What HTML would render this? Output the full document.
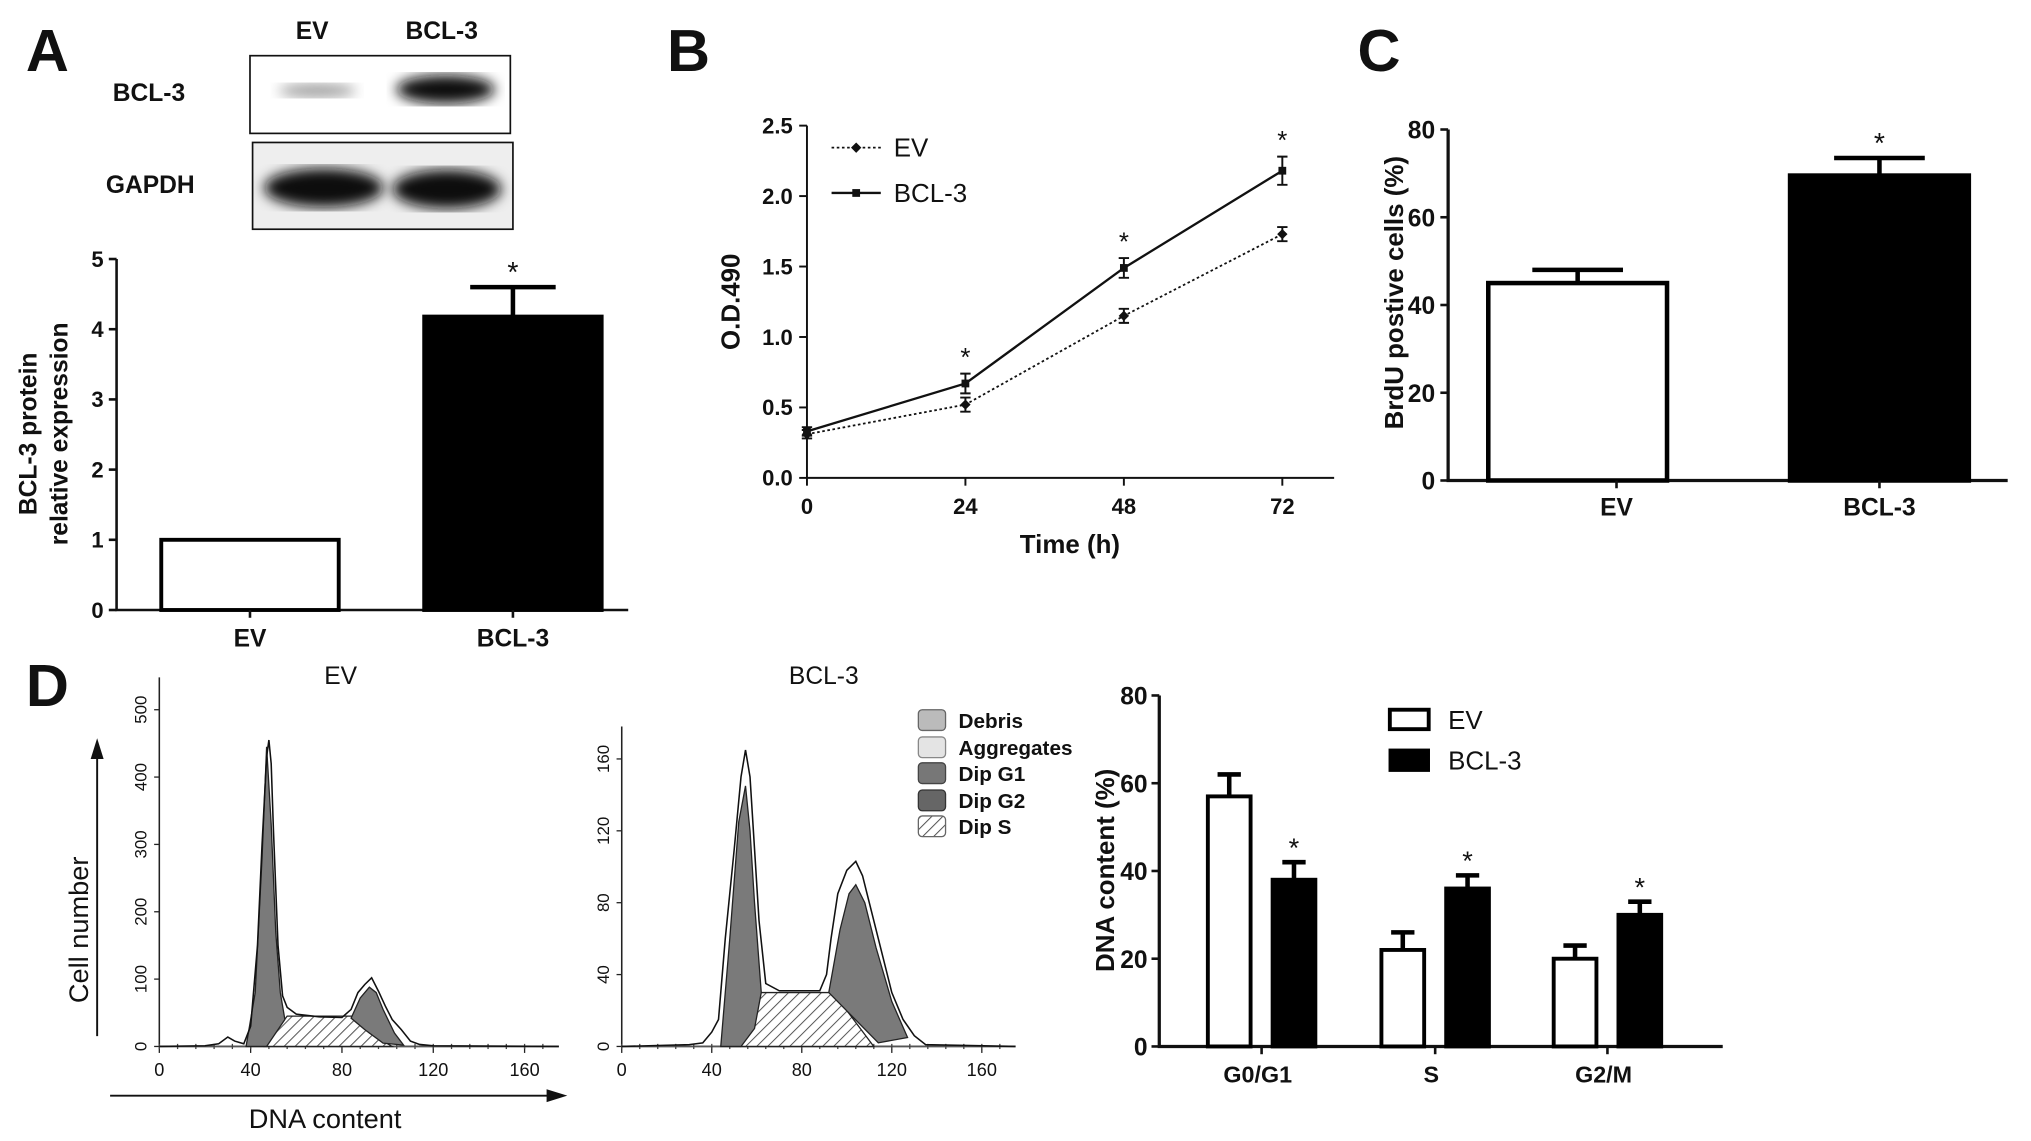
<!DOCTYPE html>
<html><head><meta charset="utf-8">
<style>
html,body{margin:0;padding:0;background:#fff;}
svg{display:block;}
text{font-family:"Liberation Sans",Arial,sans-serif;fill:#111;}
.tk{font-size:17px;font-weight:bold;}
.bd{font-weight:bold;}
.nar{font-family:"Liberation Sans Narrow","Liberation Sans",sans-serif;}
.pl{font-size:46px;font-weight:bold;}
</style></head>
<body>
<svg id="fig" width="2031" height="1141" viewBox="0 0 1568 881" preserveAspectRatio="none" xmlns="http://www.w3.org/2000/svg">
<defs>
<pattern id="hatch" width="6" height="6" patternUnits="userSpaceOnUse" patternTransform="rotate(45)">
<rect width="6" height="6" fill="#fff"/><line x1="0" y1="0" x2="0" y2="6" stroke="#555" stroke-width="1.6"/>
</pattern>
<filter id="blur"><feGaussianBlur stdDeviation="5"/></filter>
</defs>
<text x="20" y="55" class="pl">A</text>
<text x="515" y="55" class="pl">B</text>
<text x="1048" y="55" class="pl">C</text>
<text x="20" y="545" class="pl">D</text>

<g>
<text x="241" y="30" font-size="19" font-weight="bold" text-anchor="middle">EV</text>
<text x="341" y="30" font-size="19" font-weight="bold" text-anchor="middle">BCL-3</text>
<text x="115" y="78" font-size="19" font-weight="bold" text-anchor="middle">BCL-3</text>
<text x="116" y="149" font-size="19" font-weight="bold" text-anchor="middle">GAPDH</text>
<rect x="193" y="43" width="201" height="60" fill="#fff" stroke="#111" stroke-width="1.3"/>
<ellipse cx="245" cy="70" rx="30" ry="5" fill="#999" filter="url(#blur)"/>
<ellipse cx="344" cy="69" rx="38" ry="11" fill="#111" filter="url(#blur)"/>
<rect x="195" y="110" width="201" height="67" fill="#eee" stroke="#111" stroke-width="1.3"/>
<ellipse cx="250" cy="145" rx="46" ry="15" fill="#111" filter="url(#blur)"/>
<ellipse cx="345" cy="146" rx="42" ry="15" fill="#111" filter="url(#blur)"/>
</g>

<g id="gA"></g>
<g id="gB"></g>
<g id="gC"></g>
<g id="gD1"></g>
<g id="gD2"></g>
<g id="gD3"></g>

<text x="263" y="528" font-size="19" text-anchor="middle">EV</text>
<text x="636" y="528" font-size="19" text-anchor="middle">BCL-3</text>
<line x1="75" y1="800" x2="75" y2="582" stroke="#111" stroke-width="1.5"/>
<polygon points="75,570 70,586 80,586" fill="#111"/>
<text transform="translate(68,718) rotate(-90)" font-size="21" text-anchor="middle">Cell number</text>
<line x1="85" y1="846" x2="425" y2="846" stroke="#111" stroke-width="1.5"/>
<polygon points="438,846 422,841 422,851" fill="#111"/>
<text x="251" y="871" font-size="21" text-anchor="middle" class="nar">DNA content</text>
<g font-size="16" font-weight="bold">
<rect x="709" y="548" width="21" height="16" rx="3" fill="#bbb" stroke="#666"/>
<text x="740" y="562" font-weight="bold" class="nar">Debris</text>
<rect x="709" y="569" width="21" height="16" rx="3" fill="#e4e4e4" stroke="#888"/>
<text x="740" y="583" font-weight="bold" class="nar">Aggregates</text>
<rect x="709" y="589" width="21" height="16" rx="3" fill="#777" stroke="#444"/>
<text x="740" y="603" font-weight="bold" class="nar">Dip G1</text>
<rect x="709" y="610" width="21" height="16" rx="3" fill="#666" stroke="#333"/>
<text x="740" y="624" font-weight="bold" class="nar">Dip G2</text>
<rect x="709" y="630" width="21" height="16" rx="3" fill="url(#hatch)" stroke="#666"/>
<text x="740" y="644" font-weight="bold" class="nar">Dip S</text>
</g>
</svg>
<script>
var aCats=["EV","BCL-3"];
var aVals=[1.0,4.18];
var aErr=[0,0.42];
var aTicks=[0,1,2,3,4,5];

var bTimes=[0,24,48,72];
var bEV=[0.31,0.52,1.15,1.73];
var bEVerr=[0.03,0.05,0.05,0.05];
var bBCL=[0.33,0.67,1.49,2.18];
var bBCLerr=[0.03,0.07,0.07,0.1];
var bYTicks=[0,0.5,1.0,1.5,2.0,2.5];
var bXTicks=[0,24,48,72];

var cCats=["EV","BCL-3"];
var cVals=[45,69.5];
var cErr=[3,4];
var cTicks=[0,20,40,60,80];

var dCats=["G0/G1","S","G2/M"];
var dEV=[57,22,20];
var dEVerr=[5,4,3];
var dBCL=[38,36,30];
var dBCLerr=[4,3,3];
var dTicks=[0,20,40,60,80];

var hXTicks=[0,40,80,120,160];
var h1YTicks=[0,100,200,300,400,500];
var h2YTicks=[0,40,80,120,160];
var h1Outline=[[0,0],[20,1],[26,4],[30,14],[33,8],[37,4],[40,30],[43,150],[45,300],[47,430],[48,455],[49,420],[50,320],[52,150],[54,75],[56,58],[60,48],[70,44],[80,43],[84,55],[87,80],[90,92],[93,102],[96,82],[99,60],[102,40],[106,25],[110,8],[114,3],[120,1],[175,0]];
var h1G1=[[38,0],[42,80],[45,280],[47,445],[49,330],[51,170],[53,80],[55,40],[47,0]];
var h1S=[[46,0],[56,45],[84,45],[92,20],[102,0]];
var h1G2=[[84,42],[88,72],[92,88],[95,80],[98,55],[103,20],[107,2],[98,5],[90,25]];
var h2Outline=[[0,0],[30,1],[36,2],[40,8],[43,15],[46,60],[50,110],[53,150],[55,165],[57,150],[59,110],[61,70],[64,35],[70,31],[80,31],[88,31],[91,40],[93,60],[96,85],[100,98],[104,103],[107,95],[110,80],[115,55],[120,30],[125,15],[130,6],[135,1],[175,0]];
var h2G1=[[44,0],[48,60],[52,125],[55,145],[57,120],[59,80],[62,30],[59,10],[53,0]];
var h2S=[[48,0],[62,30],[94,30],[112,0]];
var h2G2=[[92,30],[97,65],[101,85],[104,90],[108,80],[113,55],[120,25],[127,5],[114,2]];

var NS="http://www.w3.org/2000/svg";
function mk(parent,tag,attrs,txt){var e=document.createElementNS(NS,tag);for(var k in attrs)e.setAttribute(k,attrs[k]);if(txt!==undefined)e.textContent=txt;parent.appendChild(e);return e;}
function lin(d0,d1,r0,r1){return function(v){return r0+(v-d0)*(r1-r0)/(d1-d0);};}

(function(){
var g=document.getElementById('gA');
var y=lin(0,5,471,200);
var ax=mk(g,'path',{d:'M90,200 L90,471 L485,471',fill:'none',stroke:'#111','stroke-width':2});

aTicks.forEach(function(t){
 var l=mk(g,'line',{x1:84,x2:90,y1:y(t),y2:y(t),stroke:'#111','stroke-width':2});
 
 var tx=mk(g,'text',{x:80,y:y(t)+6,'text-anchor':'end','class':'tk'},String(t));
 
});
var xs=[193,396];var w=137;
aCats.forEach(function(c,i){
 var top=y(aVals[i]);
 var r=mk(g,'rect',{x:xs[i]-w/2,y:top,width:w,height:471-top,fill:i?'#000':'#fff',stroke:'#000','stroke-width':3});
 
 if(aErr[i]>0){
  var e=mk(g,'path',{d:'M'+xs[i]+','+top+' L'+xs[i]+','+y(aVals[i]+aErr[i])+' M'+(xs[i]-33)+','+y(aVals[i]+aErr[i])+' L'+(xs[i]+33)+','+y(aVals[i]+aErr[i]),stroke:'#000','stroke-width':3.5,fill:'none'});
  
  var s=mk(g,'text',{x:xs[i],y:y(aVals[i]+aErr[i])-4,'text-anchor':'middle','font-size':22},'*');
  
 }
 var xl=mk(g,'line',{x1:xs[i],x2:xs[i],y1:471,y2:477,stroke:'#111','stroke-width':2});
 
 var lb=mk(g,'text',{x:xs[i],y:499,'text-anchor':'middle','font-size':19,'class':'bd'},c);
 
});
var yt=mk(g,'text',{transform:'translate(28,335) rotate(-90)','text-anchor':'middle','font-size':19,'class':'bd'},'BCL-3 protein');

var yt2=mk(g,'text',{transform:'translate(52,335) rotate(-90)','text-anchor':'middle','font-size':19,'class':'bd'},'relative expression');

})();

(function(){
var g=document.getElementById('gB');
var x=lin(0,72,623,990),y=lin(0,2.5,369,97);
var ax=mk(g,'path',{d:'M623,97 L623,369 L1030,369',fill:'none',stroke:'#111','stroke-width':1.5});

bYTicks.forEach(function(t){
 var l=mk(g,'line',{x1:617,x2:623,y1:y(t),y2:y(t),stroke:'#111','stroke-width':1.5});
 
 var tx=mk(g,'text',{x:612,y:y(t)+6,'text-anchor':'end','class':'tk'},t.toFixed(1));
 
});
bXTicks.forEach(function(t){
 var l=mk(g,'line',{x1:x(t),x2:x(t),y1:369,y2:375,stroke:'#111','stroke-width':1.5});
 
 var tx=mk(g,'text',{x:x(t),y:397,'text-anchor':'middle','class':'tk'},String(t));
 
});
function series(vals,errs,dash,name){
 var d=vals.map(function(v,i){return (i?'L':'M')+x(bTimes[i])+','+y(v);}).join(' ');
 var p=mk(g,'path',{d:d,fill:'none',stroke:'#111','stroke-width':dash?1.4:1.8,'stroke-dasharray':dash?'2,2':'none'});
 
 vals.forEach(function(v,i){
  var cx=x(bTimes[i]);
  var e=mk(g,'path',{d:'M'+cx+','+y(v-errs[i])+' L'+cx+','+y(v+errs[i])+' M'+(cx-4)+','+y(v-errs[i])+' L'+(cx+4)+','+y(v-errs[i])+' M'+(cx-4)+','+y(v+errs[i])+' L'+(cx+4)+','+y(v+errs[i]),stroke:'#111','stroke-width':1.5,fill:'none'});
  
  var m=dash?mk(g,'path',{d:'M'+cx+','+(y(v)-4)+' l4,4 l-4,4 l-4,-4z',fill:'#111'}):mk(g,'rect',{x:cx-3,y:y(v)-3,width:6,height:6,fill:'#111'});
  
 });
}
series(bEV,bEVerr,true,'ev');
series(bBCL,bBCLerr,false,'bcl3');
for(var i=1;i<bTimes.length;i++){
 var s=mk(g,'text',{x:x(bTimes[i]),y:y(bBCL[i]+bBCLerr[i])-6,'text-anchor':'middle','font-size':20},'*');
 
}
var l1=mk(g,'line',{x1:642,x2:680,y1:114,y2:114,stroke:'#111','stroke-dasharray':'2,2','stroke-width':1.4});

var m1=mk(g,'path',{d:'M661,110 l4,4 l-4,4 l-4,-4z',fill:'#111'});

var t1=mk(g,'text',{x:690,y:121,'font-size':20},'EV');

var l2=mk(g,'line',{x1:642,x2:680,y1:149,y2:149,stroke:'#111','stroke-width':1.8});

var m2=mk(g,'rect',{x:658,y:146,width:6,height:6,fill:'#111'});

var t2=mk(g,'text',{x:690,y:156,'font-size':20},'BCL-3');

var xt=mk(g,'text',{x:826,y:427,'text-anchor':'middle','font-size':20,'class':'bd'},'Time (h)');

var yt=mk(g,'text',{transform:'translate(571,233) rotate(-90)','text-anchor':'middle','font-size':20,'class':'bd'},'O.D.490');

})();

(function(){
var g=document.getElementById('gC');
var y=lin(0,80,371,100);
var ax=mk(g,'path',{d:'M1118,100 L1118,371 L1550,371',fill:'none',stroke:'#111','stroke-width':2.5});

cTicks.forEach(function(t){
 var l=mk(g,'line',{x1:1112,x2:1118,y1:y(t),y2:y(t),stroke:'#111','stroke-width':2});
 
 var tx=mk(g,'text',{x:1108,y:y(t)+7,'text-anchor':'end','font-size':19,'class':'bd'},String(t));
 
});
var xs=[1218,1451],w=138;
cCats.forEach(function(c,i){
 var top=y(cVals[i]),et=y(cVals[i]+cErr[i]);
 var e=mk(g,'path',{d:'M'+xs[i]+','+top+' L'+xs[i]+','+et+' M'+(xs[i]-35)+','+et+' L'+(xs[i]+35)+','+et,stroke:'#000','stroke-width':3.5,fill:'none'});
 
 var r=mk(g,'rect',{x:xs[i]-w/2,y:top,width:w,height:371-top,fill:i?'#000':'#fff',stroke:'#000','stroke-width':3.5});
 
 var lx=i?xs[i]:xs[i]+30;
 var lb=mk(g,'text',{x:lx,y:398,'text-anchor':'middle','font-size':19,'class':'bd'},c);
 
 var xl=mk(g,'line',{x1:lx,x2:lx,y1:371,y2:377,stroke:'#111','stroke-width':2});
 
});
var s=mk(g,'text',{x:xs[1],y:y(cVals[1]+cErr[1])-4,'text-anchor':'middle','font-size':22},'*');

var yt=mk(g,'text',{transform:'translate(1083,226) rotate(-90)','text-anchor':'middle','font-size':20,'class':'bd'},'BrdU postive cells (%)');

})();

function hist(id,x0px,x160px,yTicks,yTopVal,yTopPx,outline,g1,s,g2,pre){
 var g=document.getElementById(id);
 var x=lin(0,160,x0px,x160px),y=lin(0,yTopVal,808,yTopPx);
 function pts(a){return a.map(function(p){return x(p[0])+','+y(p[1]);}).join(' ');}
 var axy=mk(g,'line',{x1:x0px,x2:x0px,y1:808,y2:y(yTicks[yTicks.length-1])-25,stroke:'#222','stroke-width':1.2});
 
 var axx=mk(g,'line',{x1:x0px,x2:x(175),y1:808,y2:808,stroke:'#555','stroke-width':1.5});
 
 yTicks.forEach(function(t){
  var l=mk(g,'line',{x1:x0px-4,x2:x0px,y1:y(t),y2:y(t),stroke:'#222'});
  
  var tx=mk(g,'text',{transform:'translate('+(x0px-10)+','+y(t)+') rotate(-90)','text-anchor':'middle','font-size':13},String(t));
  
 });
 hXTicks.forEach(function(t){
  var l=mk(g,'line',{x1:x(t),x2:x(t),y1:808,y2:813,stroke:'#222'});
  
  var tx=mk(g,'text',{x:x(t),y:831,'text-anchor':'middle','font-size':14,'class':'nar'},String(t));
  
 });
 for(var t=0;t<=175;t+=8){var m=mk(g,'line',{x1:x(t),x2:x(t),y1:806,y2:810,stroke:'#444'});}
 var ps=mk(g,'polygon',{points:pts(s),fill:'url(#hatch)',stroke:'#222','stroke-width':1});
 
 var p1=mk(g,'polygon',{points:pts(g1),fill:'#7a7a7a',stroke:'#222','stroke-width':1});
 
 var p2=mk(g,'polygon',{points:pts(g2),fill:'#7a7a7a',stroke:'#222','stroke-width':1});
 
 var o=mk(g,'polyline',{points:pts(outline),fill:'none',stroke:'#111','stroke-width':1.2});
 
}
hist('gD1',123,405,h1YTicks,500,548,h1Outline,h1G1,h1S,h1G2,'hist-ev');
hist('gD2',480,758,h2YTicks,160,586,h2Outline,h2G1,h2S,h2G2,'hist-bcl3');

(function(){
var g=document.getElementById('gD3');
var y=lin(0,80,808,537);
var ax=mk(g,'path',{d:'M895,537 L895,808 L1330,808',fill:'none',stroke:'#111','stroke-width':2.5});

dTicks.forEach(function(t){
 var l=mk(g,'line',{x1:889,x2:895,y1:y(t),y2:y(t),stroke:'#111','stroke-width':2});
 
 var tx=mk(g,'text',{x:886,y:y(t)+7,'text-anchor':'end','font-size':19,'class':'bd'},String(t));
 
});
var cx=[974,1108,1241],w=33;
dCats.forEach(function(c,i){
 [[dEV,dEVerr,-25,'#fff','ev'],[dBCL,dBCLerr,25,'#000','bcl3']].forEach(function(s){
  var bx=cx[i]+s[2],top=y(s[0][i]),et=y(s[0][i]+s[1][i]);
  var e=mk(g,'path',{d:'M'+bx+','+top+' L'+bx+','+et+' M'+(bx-9)+','+et+' L'+(bx+9)+','+et,stroke:'#000','stroke-width':3.5,fill:'none'});
  
  var r=mk(g,'rect',{x:bx-w/2,y:top,width:w,height:808-top,fill:s[3],stroke:'#000','stroke-width':3});
  
  if(s[4]==='bcl3'){
   var st=mk(g,'text',{x:bx,y:et-4,'text-anchor':'middle','font-size':21},'*');
   
  }
 });
 var xl=mk(g,'line',{x1:cx[i],x2:cx[i],y1:808,y2:814,stroke:'#111','stroke-width':2});
 
 var lb=mk(g,'text',{x:cx[i]-3,y:836,'text-anchor':'middle','font-size':18,'font-weight':'bold','class':'nar'},c);
 
});
var b1=mk(g,'rect',{x:1073,y:548,width:30,height:15,fill:'#fff',stroke:'#000','stroke-width':3});

var t1=mk(g,'text',{x:1118,y:563,'font-size':20},'EV');

var b2=mk(g,'rect',{x:1072,y:578,width:32,height:18,fill:'#000'});

var t2=mk(g,'text',{x:1118,y:594,'font-size':20},'BCL-3');

var yt=mk(g,'text',{transform:'translate(860,672) rotate(-90)','text-anchor':'middle','font-size':20,'class':'bd'},'DNA content (%)');

})();
</script>
</body></html>
